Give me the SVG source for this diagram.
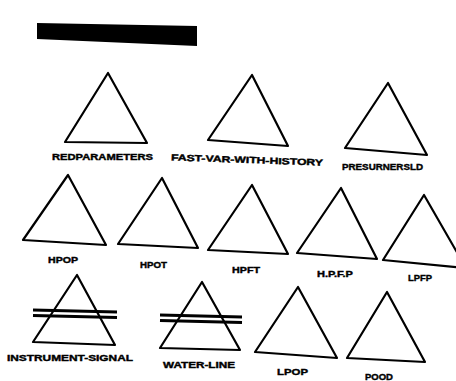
<svg xmlns="http://www.w3.org/2000/svg" width="456" height="381" viewBox="0 0 456 381">
<style>
.tri{fill:none;stroke:#000;stroke-width:2.2;stroke-linejoin:round}
.bar{stroke:#000;stroke-width:3;fill:none}
.lbl{font-family:"Liberation Sans",Arial,sans-serif;font-weight:bold;font-size:9px;fill:#000;stroke:#000;stroke-width:0.4;text-anchor:start}
</style>
<rect width="456" height="381" fill="#fff"/>
<g id="header">
<polygon points="37,23 197,26 197,46 37,39" fill="#000"/>
</g>
<g id="redparameters">
<polygon class="tri" points="108,73 65,142 147,143"/>
<text class="lbl" x="52" y="160" textLength="101" lengthAdjust="spacingAndGlyphs">REDPARAMETERS</text>
</g>
<g id="fast-var-with-history">
<polygon class="tri" points="252,75 208,140 288,146"/>
<text class="lbl" x="171" y="163" textLength="152" lengthAdjust="spacingAndGlyphs" transform="rotate(2 246 160)">FAST-VAR-WITH-HISTORY</text>
</g>
<g id="presurnersld">
<polygon class="tri" points="388,83 345,148 427,155"/>
<text class="lbl" x="342" y="170" textLength="81" lengthAdjust="spacingAndGlyphs">PRESURNERSLD</text>
</g>
<g id="hpop">
<polygon class="tri" points="68,175 23,240 106,245"/>
<text class="lbl" x="48" y="263" textLength="30" lengthAdjust="spacingAndGlyphs">HPOP</text>
</g>
<g id="hpot">
<polygon class="tri" points="162,178 118,244 198,248"/>
<text class="lbl" x="140" y="268" textLength="27" lengthAdjust="spacingAndGlyphs">HPOT</text>
</g>
<g id="hpft">
<polygon class="tri" points="252,185 208,250 288,254"/>
<text class="lbl" x="232" y="273" textLength="28" lengthAdjust="spacingAndGlyphs">HPFT</text>
</g>
<g id="hpfp">
<polygon class="tri" points="341,188 297,253 377,259"/>
<text class="lbl" x="317" y="277" textLength="36" lengthAdjust="spacingAndGlyphs">H.P.F.P</text>
</g>
<g id="lpfp">
<polygon class="tri" points="424,195 383,260 466,268"/>
<text class="lbl" x="408" y="281" textLength="24" lengthAdjust="spacingAndGlyphs">LPFP</text>
</g>
<g id="instrument-signal">
<polygon class="tri" points="77,275 33,342 115,345"/>
<line class="bar" x1="33" y1="310" x2="117" y2="312"/>
<line class="bar" x1="33" y1="315.5" x2="117" y2="317.5"/>
<text class="lbl" x="7" y="361" textLength="126" lengthAdjust="spacingAndGlyphs">INSTRUMENT-SIGNAL</text>
</g>
<g id="water-line">
<polygon class="tri" points="202,282 160,348 240,350"/>
<line class="bar" x1="160" y1="315" x2="242" y2="317"/>
<line class="bar" x1="160" y1="320.5" x2="242" y2="322.5"/>
<text class="lbl" x="163" y="368" textLength="72" lengthAdjust="spacingAndGlyphs">WATER-LINE</text>
</g>
<g id="lpop">
<polygon class="tri" points="298,287 255,352 337,358"/>
<text class="lbl" x="277" y="375" textLength="31" lengthAdjust="spacingAndGlyphs">LPOP</text>
</g>
<g id="pood">
<polygon class="tri" points="387,292 347,358 425,362"/>
<text class="lbl" x="365" y="380" textLength="28" lengthAdjust="spacingAndGlyphs">POOD</text>
</g>
</svg>
